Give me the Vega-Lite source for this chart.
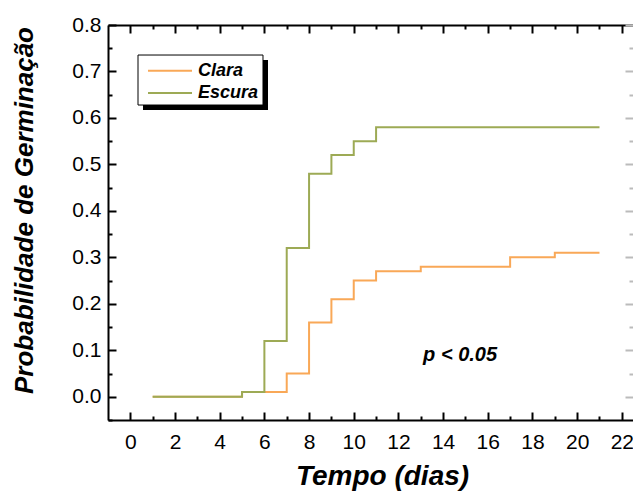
{
  "$schema": "https://vega.github.io/schema/vega-lite/v6.json",
  "autosize": {"type": "none"},
  "padding": {"left": 108, "top": 25, "right": 0, "bottom": 75},
  "width": 525,
  "height": 395,
  "background": "white",
  "config": {
    "view": {"stroke": null},
    "font": "Liberation Sans",
    "axis": {
      "grid": false,
      "domainColor": "black",
      "domainWidth": 2,
      "tickColor": "black",
      "tickWidth": 2,
      "labelColor": "black",
      "labelFont": "Liberation Sans",
      "labelFontSize": 21,
      "titleFont": "Liberation Sans",
      "titleFontSize": 26,
      "titleFontWeight": "bold",
      "titleFontStyle": "italic",
      "titleColor": "black"
    }
  },
  "data": {
    "values": [
      {"serie": "Clara", "dia": 1, "prob": 0.0},
      {"serie": "Clara", "dia": 5, "prob": 0.01},
      {"serie": "Clara", "dia": 7, "prob": 0.05},
      {"serie": "Clara", "dia": 8, "prob": 0.16},
      {"serie": "Clara", "dia": 9, "prob": 0.21},
      {"serie": "Clara", "dia": 10, "prob": 0.25},
      {"serie": "Clara", "dia": 11, "prob": 0.27},
      {"serie": "Clara", "dia": 13, "prob": 0.28},
      {"serie": "Clara", "dia": 17, "prob": 0.30},
      {"serie": "Clara", "dia": 19, "prob": 0.31},
      {"serie": "Clara", "dia": 21, "prob": 0.31},
      {"serie": "Escura", "dia": 1, "prob": 0.0},
      {"serie": "Escura", "dia": 5, "prob": 0.01},
      {"serie": "Escura", "dia": 6, "prob": 0.12},
      {"serie": "Escura", "dia": 7, "prob": 0.32},
      {"serie": "Escura", "dia": 8, "prob": 0.48},
      {"serie": "Escura", "dia": 9, "prob": 0.52},
      {"serie": "Escura", "dia": 10, "prob": 0.55},
      {"serie": "Escura", "dia": 11, "prob": 0.58},
      {"serie": "Escura", "dia": 21, "prob": 0.58}
    ]
  },
  "resolve": {"axis": {"x": "independent", "y": "independent"}},
  "layer": [
    {
      "mark": {"type": "line", "interpolate": "step-after", "strokeWidth": 2},
      "encoding": {
        "x": {
          "field": "dia", "type": "quantitative",
          "scale": {"domain": [-1, 22.5], "nice": false, "zero": false},
          "axis": {"orient": "bottom", "values": [0,2,4,6,8,10,12,14,16,18,20,22], "format": "d", "tickSize": -8, "labelPadding": 19, "title": "Tempo (dias)", "titleFontSize": 28, "titlePadding": 10, "titleX": 274, "labelFlush": false, "labelOverlap": false}
        },
        "y": {
          "field": "prob", "type": "quantitative",
          "scale": {"domain": [-0.05, 0.8], "nice": false, "zero": false},
          "axis": {"orient": "left", "values": [0,0.1,0.2,0.3,0.4,0.5,0.6,0.7,0.8], "format": ".1f", "tickSize": -8, "labelPadding": 15, "title": "Probabilidade de Germinação", "titlePadding": 34, "titleY": 185, "labelFlush": false, "labelOverlap": false}
        },
        "color": {
          "field": "serie", "type": "nominal",
          "scale": {"domain": ["Clara", "Escura"], "range": ["#F9A857", "#9DAA55"]},
          "legend": null
        }
      }
    },
    {
      "data": {"values": [{}]},
      "mark": {"type": "rect", "color": "black"},
      "encoding": {
        "x": {"datum": 0.567, "type": "quantitative", "axis": {"orient": "bottom", "values": [1,3,5,7,9,11,13,15,17,19,21], "tickSize": -4, "labels": false, "domain": false, "title": null}},
        "x2": {"datum": 6.162},
        "y": {"datum": 0.7247, "type": "quantitative", "axis": {"orient": "left", "values": [-0.05,0.05,0.15,0.25,0.35,0.45,0.55,0.65,0.75], "tickSize": -4, "labels": false, "domain": false, "title": null}},
        "y2": {"datum": 0.6171}
      }
    },
    {
      "data": {"values": [{}]},
      "mark": {"type": "rect", "fill": "white", "stroke": "black", "strokeWidth": 1},
      "encoding": {
        "x": {"datum": 0.343, "type": "quantitative", "axis": {"orient": "top", "values": [0,2,4,6,8,10,12,14,16,18,20,22], "tickSize": -8, "labels": false, "domain": true, "title": null}},
        "x2": {"datum": 5.938},
        "y": {"datum": 0.7354, "type": "quantitative", "axis": {"orient": "right", "values": [0,0.1,0.2,0.3,0.4,0.5,0.6,0.7,0.8], "tickSize": -8, "tickColor": "#bbbbbb", "labels": false, "domain": false, "title": null}},
        "y2": {"datum": 0.6278}
      }
    },
    {
      "data": {"values": [{}]},
      "mark": {"type": "rule", "color": "#F9A857", "strokeWidth": 2},
      "encoding": {
        "x": {"datum": 0.791, "type": "quantitative", "axis": {"orient": "top", "values": [1,3,5,7,9,11,13,15,17,19,21], "tickSize": -4, "labels": false, "domain": false, "title": null}},
        "x2": {"datum": 2.76},
        "y": {"datum": 0.7017, "type": "quantitative", "axis": {"orient": "right", "values": [0.05,0.15,0.25,0.35,0.45,0.55,0.65,0.75], "tickSize": -4, "tickColor": "#bbbbbb", "labels": false, "domain": false, "title": null}}
      }
    },
    {
      "data": {"values": [{}]},
      "mark": {"type": "rule", "color": "#9DAA55", "strokeWidth": 2},
      "encoding": {
        "x": {"datum": 0.791, "type": "quantitative", "axis": null},
        "x2": {"datum": 2.76},
        "y": {"datum": 0.6537, "type": "quantitative", "axis": null}
      }
    },
    {
      "data": {"values": [{}]},
      "mark": {"type": "text", "text": "Clara", "align": "left", "baseline": "middle", "font": "Liberation Sans", "fontSize": 18, "fontWeight": "bold", "fontStyle": "italic", "color": "black"},
      "encoding": {
        "x": {"datum": 3.029, "type": "quantitative", "axis": null},
        "y": {"datum": 0.7017, "type": "quantitative", "axis": null}
      }
    },
    {
      "data": {"values": [{}]},
      "mark": {"type": "text", "text": "Escura", "align": "left", "baseline": "middle", "font": "Liberation Sans", "fontSize": 18, "fontWeight": "bold", "fontStyle": "italic", "color": "black"},
      "encoding": {
        "x": {"datum": 3.029, "type": "quantitative", "axis": null},
        "y": {"datum": 0.6537, "type": "quantitative", "axis": null}
      }
    },
    {
      "data": {"values": [{}]},
      "mark": {"type": "text", "text": "p < 0.05", "align": "center", "baseline": "middle", "font": "Liberation Sans", "fontSize": 20, "fontWeight": "bold", "fontStyle": "italic", "color": "black"},
      "encoding": {
        "x": {"datum": 14.76, "type": "quantitative", "axis": null},
        "y": {"datum": 0.0899, "type": "quantitative", "axis": null}
      }
    }
  ]
}
